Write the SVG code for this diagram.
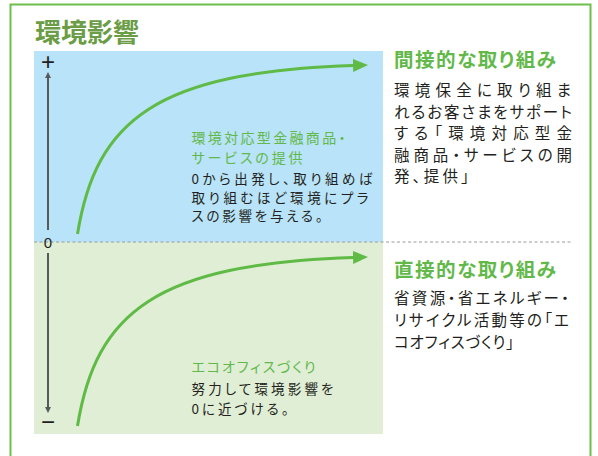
<svg xmlns="http://www.w3.org/2000/svg" width="598" height="456" viewBox="0 0 598 456">
<style>
  .jp { font-family: "Noto Sans CJK JP", "Noto Sans", sans-serif; font-feature-settings: "palt"; }
  .title { font-size: 26px; font-weight: bold; fill: #6b9d47; }
  .head { font-size: 19.5px; font-weight: bold; fill: #62b94a; }
  .body { font-size: 15.5px; fill: #231f20; }
  .sub { font-size: 14px; fill: #62b94a; }
  .note { font-size: 13.5px; fill: #231f20; }
  .axislbl { font-family: "Liberation Sans", Arial, sans-serif; fill: #231f20; text-anchor: middle; }
  .curve { fill: none; stroke: #5fba46; stroke-width: 3; }
  .axis { fill: none; stroke: #58595b; stroke-width: 2; }
</style>
<defs>
  <marker id="greenHead" markerUnits="userSpaceOnUse" markerWidth="16" markerHeight="14" refX="0" refY="6.5" orient="auto">
    <path d="M0,0 L15,6.5 L0,13 Z" fill="#5fba46"/>
  </marker>
  <marker id="grayHead" markerUnits="userSpaceOnUse" markerWidth="8" markerHeight="8" refX="0" refY="3" orient="auto">
    <path d="M0,0 L6,3 L0,6 Z" fill="#58595b"/>
  </marker>
</defs>

<g id="frame">
  <path d="M10.5,470 V4.5 H590.5 V470" fill="none" stroke="#6cc04a" stroke-width="2"/>
</g>

<g id="title">
  <text class="jp title" x="35" y="42">環境影響</text>
</g>

<g id="panel-positive">
  <rect x="34" y="51" width="349" height="191" fill="#b9e3f8"/>
</g>
<g id="panel-negative">
  <rect x="34" y="242" width="349" height="192" fill="#dfeed5"/>
</g>

<g id="zero-line">
  <line x1="34" y1="242" x2="572" y2="242" stroke="#9a9a9a" stroke-width="1" stroke-dasharray="3,2.5"/>
</g>

<g id="axis">
  <path class="axis" d="M48,230 V78" marker-end="url(#grayHead)"/>
  <path class="axis" d="M48,253 V407" marker-end="url(#grayHead)"/>
  <text class="axislbl" x="48" y="69.5" font-size="24">+</text>
  <text class="axislbl" x="48" y="248" font-size="15">0</text>
  <text class="axislbl" x="48" y="430" font-size="24">−</text>
</g>

<g id="connectors">
  <path class="curve" d="M77.5,234 C96,120 156,72 353,65.5" marker-end="url(#greenHead)"/>
  <path class="curve" d="M77.5,426 C96,312 156,264 353,257.5" marker-end="url(#greenHead)"/>
</g>

<g id="note-positive">
  <text class="jp sub"><tspan x="191.5" y="143" textLength="154" lengthAdjust="spacing">環境対応型金融商品・</tspan><tspan x="191.5" y="163" textLength="111" lengthAdjust="spacing">サービスの提供</tspan></text>
  <text class="jp note"><tspan x="191.5" y="184.3" textLength="181" lengthAdjust="spacing">0から出発し、取り組めば</tspan><tspan x="191.5" y="202.6" textLength="177" lengthAdjust="spacing">取り組むほど環境にプラ</tspan><tspan x="191.5" y="220.9" textLength="131" lengthAdjust="spacing">スの影響を与える。</tspan></text>
</g>

<g id="note-negative">
  <text class="jp sub" x="191.5" y="372" textLength="124" lengthAdjust="spacing">エコオフィスづくり</text>
  <text class="jp note"><tspan x="191.5" y="394" textLength="142" lengthAdjust="spacing">努力して環境影響を</tspan><tspan x="191.5" y="414" textLength="97" lengthAdjust="spacing">0に近づける。</tspan></text>
</g>

<g id="indirect">
  <text class="jp head" x="394" y="66.5" textLength="162" lengthAdjust="spacing">間接的な取り組み</text>
  <text class="jp body"><tspan x="394" y="95.5" textLength="177" lengthAdjust="spacing">環境保全に取り組ま</tspan><tspan x="394" y="117.5" textLength="178" lengthAdjust="spacing">れるお客さまをサポート</tspan><tspan x="394" y="139" textLength="178" lengthAdjust="spacing">する「環境対応型金</tspan><tspan x="394" y="160.5" textLength="178" lengthAdjust="spacing">融商品・サービスの開</tspan><tspan x="394" y="182" textLength="75" lengthAdjust="spacing">発、提供」</tspan></text>
</g>

<g id="direct">
  <text class="jp head" x="394" y="276.5" textLength="162" lengthAdjust="spacing">直接的な取り組み</text>
  <text class="jp body"><tspan x="394" y="304" textLength="175" lengthAdjust="spacing">省資源・省エネルギー・</tspan><tspan x="394" y="326" textLength="175" lengthAdjust="spacing">リサイクル活動等の「エ</tspan><tspan x="394" y="348" textLength="120" lengthAdjust="spacing">コオフィスづくり」</tspan></text>
</g>
</svg>
